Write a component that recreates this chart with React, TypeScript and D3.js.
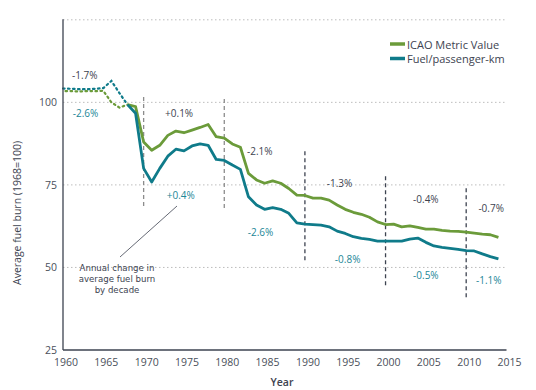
import * as d3 from 'd3';

const years = d3.range(1960, 2015);

const icaoMetric = [
  103.4, 103.4, 103.3, 103.4, 103.4, 103.5, 100, 98.4, 99.3, 98.7,
  88, 85.5, 87, 90, 91.3, 90.8, 91.6, 92.4, 93.3, 89.6,
  89.2, 87.4, 86.4, 78.5, 76.5, 75.5, 76.2, 75.5, 73.9, 71.9,
  71.8, 71, 71, 70.4, 68.9, 67.6, 66.7, 66.1, 65.2, 63.8,
  63, 63.1, 62.3, 62.6, 62.1, 61.6, 61.6, 61.2, 61, 60.9,
  60.7, 60.4, 60.1, 59.9, 59.1,
];

const fuelPerPkm = [
  104.2, 104.1, 104, 104, 104.1, 104.3, 106.5, 102.8, 99.3, 96.7,
  80, 75.9, 80, 83.7, 85.8, 85.3, 86.8, 87.4, 87, 82.7,
  82.4, 81, 79.7, 71.4, 68.9, 67.6, 68.1, 67.6, 66.4, 63.5,
  63.1, 63, 62.8, 62.3, 61, 60.3, 59.3, 58.8, 58.5, 58,
  58, 58, 58, 58.6, 58.9, 57.6, 56.5, 56.1, 55.8, 55.5,
  55.1, 55, 54.1, 53.3, 52.6,
];

const firstSolidYear = 1968;

const xTicks = d3.range(1960, 2016, 5);
const yTicks = [25, 50, 75, 100];
const gridValues = [50, 75, 100, 125];

// decade markers: year, value extent (top, bottom)
const decades = [
  { year: 1970, top: 101.6, bottom: 68.3, light: true },
  { year: 1980, top: 101, bottom: 67.1, light: true },
  { year: 1990, top: 85.2, bottom: 51.6, light: false },
  { year: 2000, top: 77.6, bottom: 44, light: false },
  { year: 2010, top: 74, bottom: 40.7, light: false },
];

// decade change labels (series: 0 = ICAO, 1 = fuel/pkm)
const decadeLabels = [
  { text: '-1.7%', year: 1962.7, value: 108.3, series: 0 },
  { text: '-2.6%', year: 1962.8, value: 96.8, series: 1 },
  { text: '+0.1%', year: 1974.4, value: 96.8, series: 0 },
  { text: '+0.4%', year: 1974.6, value: 71.8, series: 1 },
  { text: '-2.1%', year: 1984.4, value: 85.3, series: 0 },
  { text: '-2.6%', year: 1984.5, value: 60.7, series: 1 },
  { text: '-1.3%', year: 1994.3, value: 75.5, series: 0 },
  { text: '-0.8%', year: 1995.3, value: 52.5, series: 1 },
  { text: '-0.4%', year: 2005, value: 70.7, series: 0 },
  { text: '-0.5%', year: 2005, value: 47.6, series: 1 },
  { text: '-0.7%', year: 2013.1, value: 68, series: 0 },
  { text: '-1.1%', year: 2012.8, value: 46.2, series: 1 },
];

const annotationLines = ['Annual change in', 'average fuel burn', 'by decade'];

const seriesNames = ['ICAO Metric Value', 'Fuel/passenger-km'];
const seriesColors = ['#6b9b3a', '#0f7b8a'];
const labelColors = ['#3d4350', '#1d8797'];

export default function App() {
  const width = 536;
  const height = 390;
  const font = "'Open Sans', sans-serif";
  const dark = '#3d4350';

  const x = d3.scaleLinear().domain([1960, 2015]).range([63, 506.5]);
  const y = d3.scaleLinear().domain([25, 125]).range([350, 19.8]);

  const seriesData = [icaoMetric, fuelPerPkm];
  const splitIdx = years.indexOf(firstSolidYear);

  const pts = (vals: number[], from: number, to: number) =>
    vals.slice(from, to).map((v, i) => [x(years[from + i]), y(v)] as [number, number]);
  const lineXY = d3.line();

  return (
    <svg
      width={width}
      height={height}
      style={{ position: 'absolute', left: 0, top: 0, background: '#fff' }}
      fontFamily={font}
    >
      {/* grid */}
      {gridValues.map((g) => (
        <line
          key={g}
          x1={x(1960)}
          x2={x(2015)}
          y1={y(g)}
          y2={y(g)}
          stroke="#bdbdbd"
          strokeWidth={1}
          strokeDasharray="1.5,2.5"
        />
      ))}

      {/* decade markers */}
      {decades.map((d) => (
        <line
          key={d.year}
          x1={x(d.year)}
          x2={x(d.year)}
          y1={y(d.top)}
          y2={y(d.bottom)}
          stroke={d.light ? '#8c8c8c' : '#3d4350'}
          strokeWidth={1.3}
          strokeDasharray="4,3"
        />
      ))}

      {/* series */}
      {seriesData.map((vals, s) => (
        <g key={s}>
          <path
            d={lineXY(pts(vals, 0, splitIdx + 1)) || ''}
            fill="none"
            stroke={seriesColors[s]}
            strokeWidth={2.2}
            strokeDasharray="1.6,3.4"
            strokeDashoffset={s === 0 ? 2.5 : 0}
            strokeLinecap="round"
          />
          <path
            d={lineXY(pts(vals, splitIdx, vals.length)) || ''}
            fill="none"
            stroke={seriesColors[s]}
            strokeWidth={2.8}
            strokeLinejoin="round"
          />
        </g>
      ))}

      {/* axes */}
      <line x1={x(1960)} x2={x(1960)} y1={y(125) - 0.5} y2={y(25)} stroke={dark} strokeWidth={1.3} />
      <line x1={x(1960)} x2={x(2015)} y1={y(25)} y2={y(25)} stroke={dark} strokeWidth={1.3} />

      {yTicks.map((t) => (
        <text
          key={t}
          x={57}
          y={y(t)}
          textAnchor="end"
          dominantBaseline="central"
          fontSize={10.5}
          fill="#4a4f5a"
        >
          {t}
        </text>
      ))}
      {xTicks.map((t) => (
        <text
          key={t}
          x={x(t) + 3}
          y={362}
          textAnchor="middle"
          dominantBaseline="central"
          fontSize={10.5}
          fill="#4a4f5a"
        >
          {t}
        </text>
      ))}

      <text x={282} y={382} textAnchor="middle" dominantBaseline="central" fontSize={10.5} fontWeight={600} fill={dark}>
        Year
      </text>
      <text
        transform={`translate(17, ${y(66.5)}) rotate(-90)`}
        textAnchor="middle"
        dominantBaseline="central"
        fontSize={10.5}
        fill={dark}
      >
        Average fuel burn (1968=100)
      </text>

      {/* decade labels */}
      {decadeLabels.map((l, i) => (
        <text
          key={i}
          x={x(l.year)}
          y={y(l.value)}
          textAnchor="middle"
          dominantBaseline="central"
          fontSize={10}
          fill={labelColors[l.series]}
        >
          {l.text}
        </text>
      ))}

      {/* annotation */}
      <line x1={120} y1={257} x2={177} y2={206} stroke={dark} strokeWidth={0.8} />
      {annotationLines.map((t, i) => (
        <text
          key={i}
          x={117}
          y={268.3 + i * 10.8}
          textAnchor="middle"
          dominantBaseline="central"
          fontFamily="'DejaVu Sans', sans-serif"
          fontSize={8.6}
          fill={dark}
        >
          {t}
        </text>
      ))}

      {/* legend */}
      {seriesNames.map((n, i) => (
        <g key={n} transform={`translate(390, ${44 + i * 14.5})`}>
          <line x1={0} x2={15} y1={0} y2={0} stroke={seriesColors[i]} strokeWidth={3.5} />
          <text x={17} y={0} dominantBaseline="central" fontSize={11} fill={dark}>
            {n}
          </text>
        </g>
      ))}
    </svg>
  );
}
